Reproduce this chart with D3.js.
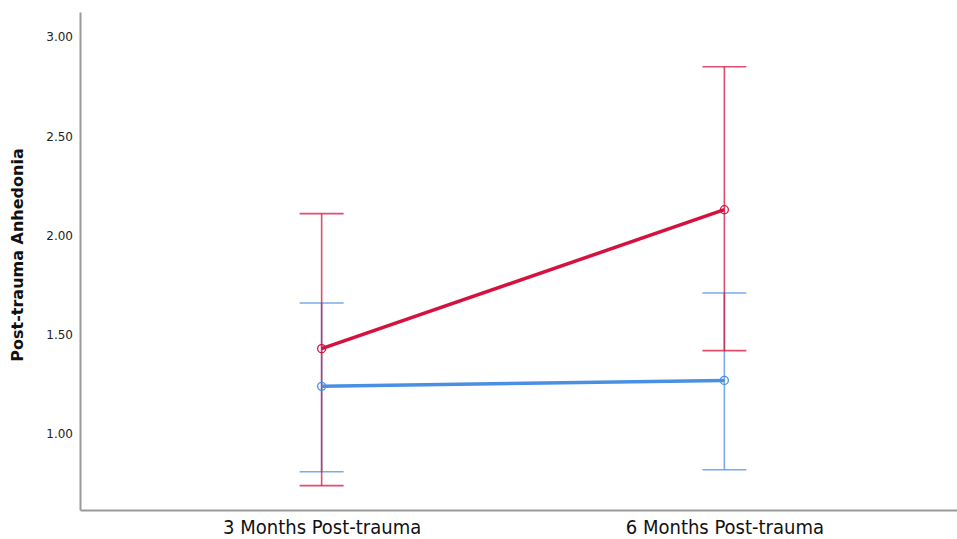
<!DOCTYPE html>
<html lang="en">
<head>
    <meta charset="UTF-8">
    <title>Post-trauma Anhedonia</title>
    <script src="https://d3js.org/d3.v7.min.js"></script>
    <style>
        body, html {
            margin: 0px;
            background: #fff;
        }
        svg text {
            font-family: 'DejaVu Sans', sans-serif;
        }
    </style>
</head>
<body>
    <div id="chart"></div>
    <script>
        // timepoints on the x axis
        const timepoints = ['3 Months Post-trauma', '6 Months Post-trauma']
        const yTicks = [1.00, 1.50, 2.00, 2.50, 3.00]

        // red group: mean with 95% CI
        const redMean = [1.43, 2.13]
        const redLow = [0.74, 1.42]
        const redHigh = [2.11, 2.85]

        // blue group
        const blueMean = [1.24, 1.27]
        const blueLow = [0.81, 0.82]
        const blueHigh = [1.66, 1.71]

        const width = 957, height = 539
        const margin = { left: 80, right: -9, top: 12, bottom: 29 }

        const svg = d3.select('#chart').append('svg')
            .attr('width', width)
            .attr('height', height)

        const x = d3.scalePoint()
            .domain(timepoints)
            .range([margin.left, width - margin.right])
            .padding(0.6)

        const y = d3.scaleLinear()
            .domain([0.617, 3.126])
            .range([height - margin.bottom, margin.top])

        // axes
        const yAxis = svg.append('g')
            .attr('transform', `translate(${margin.left},0)`)
            .call(d3.axisLeft(y).tickValues(yTicks).tickFormat(d3.format('.2f')).tickSize(0).tickPadding(7))
        yAxis.select('.domain').attr('stroke', '#9a9a9a').attr('stroke-width', 2)
        yAxis.selectAll('text').attr('font-size', 12).attr('fill', '#222')
            .style('font-family', "'DejaVu Sans', sans-serif")

        const xAxis = svg.append('g')
            .attr('transform', `translate(0,${height - margin.bottom})`)
            .call(d3.axisBottom(x).tickSize(0).tickPadding(10))
        xAxis.select('.domain').attr('stroke', '#9a9a9a').attr('stroke-width', 2)
        xAxis.selectAll('text')
            .attr('font-size', 20)
            .attr('fill', '#111')
            .style('font-family', "'DejaVu Sans Condensed', sans-serif")

        svg.append('text')
            .attr('transform', `translate(23,255) rotate(-90)`)
            .attr('text-anchor', 'middle')
            .attr('font-size', 16)
            .attr('font-weight', 'bold')
            .attr('fill', '#111')
            .text('Post-trauma Anhedonia')

        const groups = [
            { color: '#4a90e2', mean: blueMean, low: blueLow, high: blueHigh },
            { color: '#d5123f', mean: redMean, low: redLow, high: redHigh }
        ]

        // error bars first
        groups.forEach(g => {
            const eb = svg.append('g')
                .attr('stroke', g.color)
                .attr('stroke-width', 1.6)
                .attr('stroke-opacity', 0.75)
            timepoints.forEach((t, i) => {
                const cx = x(t)
                eb.append('line').attr('x1', cx).attr('x2', cx).attr('y1', y(g.low[i])).attr('y2', y(g.high[i]))
                eb.append('line').attr('x1', cx - 22).attr('x2', cx + 22).attr('y1', y(g.low[i])).attr('y2', y(g.low[i]))
                eb.append('line').attr('x1', cx - 22).attr('x2', cx + 22).attr('y1', y(g.high[i])).attr('y2', y(g.high[i]))
            })
        })

        // mean lines and markers
        const line = d3.line()
            .x((d, i) => x(timepoints[i]))
            .y(d => y(d))

        groups.forEach(g => {
            svg.append('path')
                .datum(g.mean)
                .attr('d', line)
                .attr('fill', 'none')
                .attr('stroke', g.color)
                .attr('stroke-width', 3.5)

            svg.selectAll(null)
                .data(g.mean)
                .enter()
                .append('circle')
                .attr('cx', (d, i) => x(timepoints[i]))
                .attr('cy', d => y(d))
                .attr('r', 4)
                .attr('fill', 'none')
                .attr('stroke', g.color)
                .attr('stroke-width', 1.3)
        })
    </script>
</body>
</html>
